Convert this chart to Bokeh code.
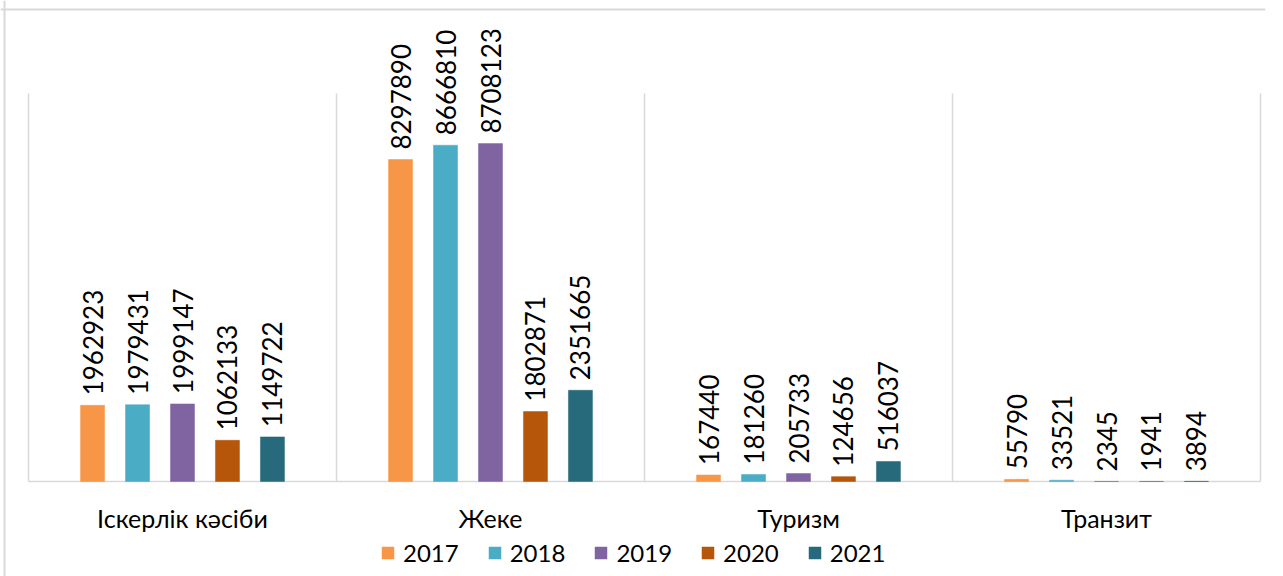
import math
from bokeh.plotting import figure
from bokeh.models import ColumnDataSource, Range1d, Legend, LegendItem, Span
from bokeh.core.properties import value
from bokeh.embed import file_html
from bokeh.resources import INLINE

categories = ["Іскерлік кәсіби", "Жеке", "Туризм", "Транзит"]
years = ["2017", "2018", "2019", "2020", "2021"]
v2017 = [1962923, 8297890, 167440, 55790]
v2018 = [1979431, 8666810, 181260, 33521]
v2019 = [1999147, 8708123, 205733, 2345]
v2020 = [1062133, 1802871, 124656, 1941]
v2021 = [1149722, 2351665, 516037, 3894]
colors = ["#F79646", "#4BACC6", "#8064A2", "#B6560B", "#276A7C"]

series = [v2017, v2018, v2019, v2020, v2021]
FONT = "Lato"
GRID = "#d9d9d9"

# plot area: 308 px per category, 388 px for 0..10,000,000
YMAX = 10_000_000
x_range = Range1d(-0.5 - 28 / 308, 3.5 + 5 / 308)
y_range = Range1d(-YMAX * 95 / 388, YMAX * 481 / 388)

p = figure(frame_width=1265, frame_height=576, output_backend="svg", toolbar_location=None,
           x_range=x_range, y_range=y_range,
           min_border_left=0, min_border_right=18, min_border_top=0, min_border_bottom=0)
p.outline_line_color = None
p.axis.visible = False
p.grid.grid_line_color = None

# category separators and baseline
n = len(categories)
seps = [i - 0.5 for i in range(n + 1)]
p.segment(x0=seps, y0=[0] * len(seps), x1=seps, y1=[YMAX] * len(seps),
          line_color=GRID, line_width=1.5)
p.segment(x0=[-0.5], y0=[0], x1=[n - 0.5], y1=[0], line_color=GRID, line_width=1.5)

# outer chart border (top and left)
p.add_layout(Span(location=9, location_units="canvas", dimension="width",
                  line_color=GRID, line_width=2))
p.add_layout(Span(location=4, location_units="canvas", dimension="height",
                  line_color=GRID, line_width=2))

# category labels under the baseline
cat_src = ColumnDataSource(dict(x=list(range(n)), y=[0] * n, lab=categories))
p.text(x="x", y="y", text="lab", source=cat_src, text_align="center",
       text_baseline="middle", y_offset=36, text_font=value(FONT),
       text_font_size="25px", text_color="#000000")

step = 0.146
width = 0.078
items = []
for j, (yr, vals, col) in enumerate(zip(years, series, colors)):
    xs = [i + (j - 2) * step for i in range(n)]
    src = ColumnDataSource(dict(x=xs, top=vals, lab=[str(v) for v in vals]))
    r = p.vbar(x="x", top="top", width=width, bottom=0, source=src,
               fill_color=col, line_color=col, line_width=0.5)
    p.text(x="x", y="top", text="lab", source=src, angle=math.pi / 2,
           text_align="left", text_baseline="middle", y_offset=-10,
           text_font=value(FONT), text_font_size="26px", text_color="#000000")
    items.append(LegendItem(label=yr, renderers=[r]))

legend = Legend(items=items, orientation="horizontal", location=(380, 9),
                label_text_font=FONT, label_text_font_size="24px",
                label_text_color="#000000", glyph_width=15, glyph_height=15,
                label_height=15, spacing=28, label_standoff=8,
                border_line_color=None, background_fill_alpha=0,
                padding=0, margin=0)
p.add_layout(legend, "center")

open("out.html", "w").write(file_html(p, INLINE))
